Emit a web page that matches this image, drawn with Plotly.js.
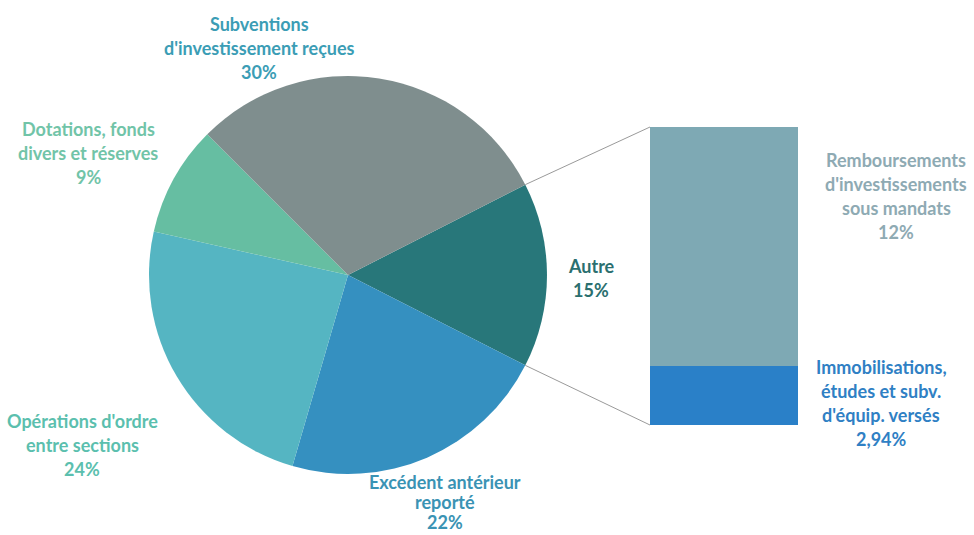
<!DOCTYPE html>
<html>
<head>
<meta charset="utf-8">
<script src="https://cdn.plot.ly/plotly-3.0.1.min.js"></script>
<style>html,body{margin:0;padding:0;background:#fff;}#chart{width:974px;height:535px;}</style>
</head>
<body>
<div id="chart"></div>
<script>
// ---- data ----
var pieLabels = ["Autre", "Excédent antérieur<br>reporté", "Opérations d'ordre<br>entre sections", "Dotations, fonds<br>divers et réserves", "Subventions<br>d'investissement reçues"];
var pieValues = [15, 22, 24, 9, 30];
var pieText = ["15%", "22%", "24%", "9%", "30%"];
var pieColors = ["#28777a", "#3590c0", "#55b5c2", "#66bea2", "#7f8e8e"];
var pieLabelColors = ["#2b6f6f", "#3a93b4", "#5bbfae", "#71c4a8", "#3b9db5"];

var barLabels = ["Immobilisations,<br>études et subv.<br>d'équip. versés", "Remboursements<br>d'investissements<br>sous mandats"];
var barValues = [2.94, 12];
var barText = ["2,94%", "12%"];
var barColors = ["#2a80c8", "#7ea9b4"];
var barLabelColors = ["#2f80c4", "#8eaab3"];

// ---- layout geometry ----
var W = 974, H = 535;
var cx = 348, cy = 275, R = 199;
var pieDomX = [(cx - R) / W, (cx + R) / W];
var pieDomY = [(H - cy - R) / H, (H - cy + R) / H];
var barDomX = [650 / W, 798 / W];
var barDomY = [110 / H, 408 / H];
var pieTotal = pieValues.reduce(function (a, b) { return a + b; }, 0);
var rotation = 90 - 360 * pieValues[0] / pieTotal / 2;
var barTotal = barValues.reduce(function (a, b) { return a + b; }, 0);

var traces = [{
  type: 'pie',
  labels: pieLabels,
  values: pieValues,
  sort: false,
  direction: 'clockwise',
  rotation: rotation,
  marker: {colors: pieColors, line: {width: 0}},
  textinfo: 'none',
  hoverinfo: 'label+percent',
  domain: {x: pieDomX, y: pieDomY},
  showlegend: false
}];
barValues.forEach(function (v, i) {
  traces.push({
    type: 'bar', x: [0], y: [v], width: [1],
    marker: {color: barColors[i], line: {width: 0}},
    name: barLabels[i].replace(/<br>/g, ' '),
    hoverinfo: 'name+y', showlegend: false, xaxis: 'x', yaxis: 'y'
  });
});

// annotations: one per line for line spacing control
var FONT = 'Lato, "Open Sans", sans-serif';
var FS = 18;
var annotations = [];
function addLabel(text, pxX, pxY, color, lh) {
  var lines = text.split('<br>');
  var n = lines.length;
  lines.forEach(function (ln, i) {
    annotations.push({
      xref: 'paper', yref: 'paper', x: pxX / W, y: 1 - pxY / H,
      text: '<b>' + ln + '</b>', showarrow: false,
      xanchor: 'center', yanchor: 'middle',
      yshift: ((n - 1) / 2 - i) * lh,
      font: {family: FONT, size: FS, color: color}
    });
  });
}
var piePos = [[591, 278, 24], [445, 502, 20], [82, 445, 24], [88, 153, 24], [259, 48, 24]];
pieLabels.forEach(function (l, i) {
  addLabel(l + '<br>' + pieText[i], piePos[i][0], piePos[i][1], pieLabelColors[i], piePos[i][2]);
});
var barPos = [[881, 403], [896, 196]];
barLabels.forEach(function (l, i) {
  addLabel(l + '<br>' + barText[i], barPos[i][0], barPos[i][1], barLabelColors[i], 24);
});

// connector lines from "Autre" slice edges to bar corners
function pieEdge(angDeg) {
  var a = angDeg * Math.PI / 180;
  return [cx + R * Math.sin(a), cy - R * Math.cos(a)];
}
var a0 = rotation, a1 = rotation + 360 * pieValues[0] / pieTotal;
var p0 = pieEdge(a0), p1 = pieEdge(a1);
var barLeftPx = barDomX[0] * W;
var barTopPx = H - barDomY[1] * H, barBotPx = H - barDomY[0] * H;
var shapes = [
  {type: 'line', xref: 'paper', yref: 'paper', x0: p0[0] / W, y0: 1 - p0[1] / H, x1: barLeftPx / W, y1: 1 - barTopPx / H, line: {color: '#9a9a9a', width: 1}},
  {type: 'line', xref: 'paper', yref: 'paper', x0: p1[0] / W, y0: 1 - p1[1] / H, x1: barLeftPx / W, y1: 1 - barBotPx / H, line: {color: '#9a9a9a', width: 1}}
];

var layout = {
  width: W, height: H,
  margin: {l: 0, r: 0, t: 0, b: 0},
  paper_bgcolor: '#ffffff', plot_bgcolor: 'rgba(0,0,0,0)',
  barmode: 'stack', bargap: 0,
  xaxis: {domain: barDomX, range: [-0.5, 0.5], visible: false, fixedrange: true},
  yaxis: {domain: barDomY, range: [0, barTotal], visible: false, fixedrange: true},
  annotations: annotations,
  shapes: shapes,
  showlegend: false
};
Plotly.newPlot('chart', traces, layout, {displayModeBar: false, staticPlot: true});
</script>
</body>
</html>
